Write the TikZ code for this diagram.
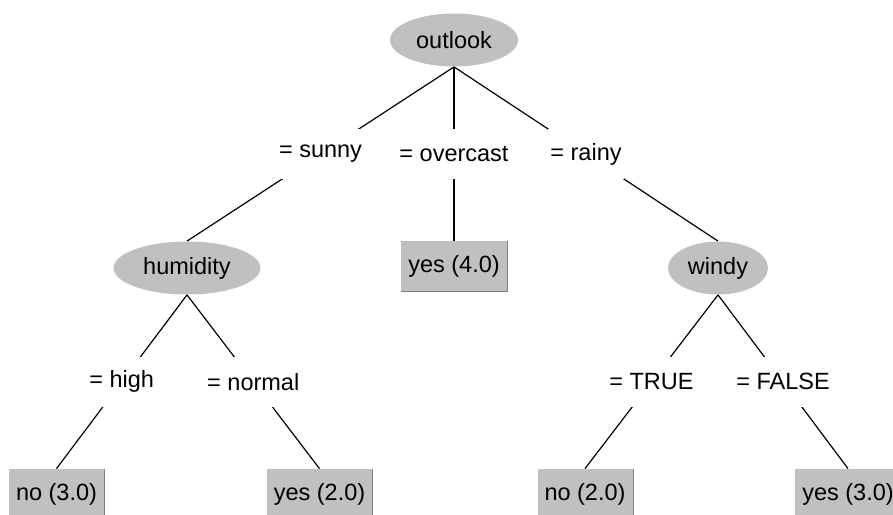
\documentclass[tikz,border=0pt]{standalone}
\usepackage{fontspec}
\setmainfont{Liberation Sans}
\usetikzlibrary{shapes.geometric}
\definecolor{wkgray}{RGB}{192,192,192}
\definecolor{wkshade}{RGB}{128,128,128}
\newcommand{\treefont}{\fontsize{11.75}{14}\selectfont}
\tikzset{
  attr/.style={ellipse, fill=wkgray, inner sep=0pt, minimum height=26.5pt,
               font=\treefont},
  leaf/.style={rectangle, fill=wkgray, minimum height=25pt, inner xsep=3.5pt,
               font=\treefont,
               append after command={\pgfextra{
                 \draw[white, line width=0.8pt]
                   (\tikzlastnode.south west) |- (\tikzlastnode.north east);
                 \draw[wkshade, line width=0.8pt]
                   (\tikzlastnode.north east) |- (\tikzlastnode.south west);}}},
  val/.style={fill=white, minimum height=25pt, inner xsep=1pt, font=\treefont},
  branch/.style={line width=0.6pt},
}

\begin{document}
\begin{tikzpicture}[x=0.5pt, y=-0.5pt]
\useasboundingbox (0,0) rectangle (893,514);
\clip (0,0) rectangle (893,514);

% ============================ tests ===================================
\node[attr, minimum width=64pt]   (outlook)  at (454,40)  {outlook};
\node[attr, minimum width=73.5pt] (humidity) at (187,268) {humidity};
\node[attr, minimum width=50pt]   (windy)    at (718,268) {windy};

% ============================ leaves ==================================
\node[leaf] (overcastleaf) at (454,266)   {yes (4.0)};
\node[leaf] (highleaf)     at (56.5,494)  {no (3.0)};
\node[leaf] (normalleaf)   at (319.5,494) {yes (2.0)};
\node[leaf] (trueleaf)     at (585,494)   {no (2.0)};
\node[leaf] (falseleaf)    at (848,494)   {yes (3.0)};

% ============================ branches ================================
\draw[branch] (outlook.south) -- node[val] (sunny) {= sunny} (humidity.north);
\draw[branch] (outlook.south) -- node[val] (overcast) {= overcast} (overcastleaf.north);
\draw[branch] (outlook.south) -- node[val] (rainy) {= rainy} (windy.north);

\draw[branch] (humidity.south) -- node[val] (high) {= high} (highleaf.north);
\draw[branch] (humidity.south) -- node[val] (normal) {= normal} (normalleaf.north);

\draw[branch] (windy.south) -- node[val] (true) {= TRUE} (trueleaf.north);
\draw[branch] (windy.south) -- node[val] (false) {= FALSE} (falseleaf.north);

\end{tikzpicture}
\end{document}
